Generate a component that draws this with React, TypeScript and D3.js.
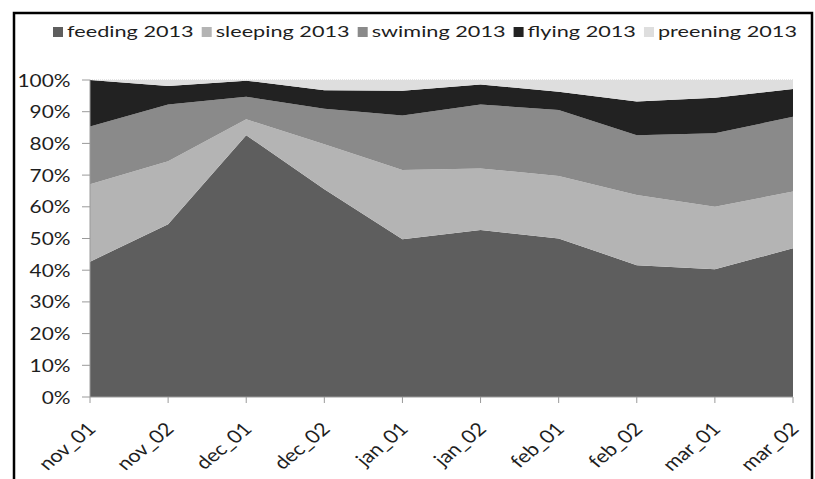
import React from "react";
import * as d3 from "d3";

const categories = ["nov_01", "nov_02", "dec_01", "dec_02", "jan_01", "jan_02", "feb_01", "feb_02", "mar_01", "mar_02"];
const seriesNames = ["feeding 2013", "sleeping 2013", "swiming 2013", "flying 2013", "preening 2013"];
const feeding = [42.7, 54.5, 82.6, 65.5, 49.8, 52.7, 50.0, 41.6, 40.3, 46.9];
const sleeping = [24.4, 19.9, 5.0, 14.2, 21.8, 19.4, 19.7, 22.1, 19.7, 17.9];
const swimming = [18.2, 17.9, 7.1, 11.2, 17.2, 20.2, 20.8, 18.9, 23.2, 23.6];
const flying = [14.7, 5.8, 5.1, 5.9, 7.8, 6.3, 5.8, 10.6, 11.2, 8.8];
const preening = [0, 1.9, 0.2, 3.2, 3.4, 1.4, 3.7, 6.8, 5.6, 2.8];
const yTicks = [0, 0.1, 0.2, 0.3, 0.4, 0.5, 0.6, 0.7, 0.8, 0.9, 1.0];

const colors = ["#5e5e5e", "#b4b4b4", "#8a8a8a", "#222222", "#dedede"];

const W = 815;
const H = 479;
const PLOT = { left: 90, right: 793, top: 80, bottom: 397 };
const FONT_NAME = "Lato";
const FONT = "Lato, 'Open Sans', sans-serif";
const TEXT = "#1e1e1e";

let _ctx: CanvasRenderingContext2D | null = null;
function measure(text: string, size: number): number {
  if (!_ctx) {
    const c = document.createElement("canvas");
    _ctx = c.getContext("2d");
  }
  if (!_ctx) return text.length * size * 0.52;
  _ctx.font = `${size}px ${FONT_NAME}`;
  return _ctx.measureText(text).width;
}

export default function App() {
  const seriesValues = [feeding, sleeping, swimming, flying, preening];
  const keys = seriesNames;
  const rows = categories.map((c, i) => {
    const r: any = { cat: c };
    keys.forEach((k, j) => (r[k] = seriesValues[j][i]));
    return r;
  });
  const stacked = d3.stack().keys(keys).offset(d3.stackOffsetExpand)(rows);

  const x = d3.scalePoint().domain(categories).range([PLOT.left, PLOT.right]);
  const y = d3.scaleLinear().domain([0, 1]).range([PLOT.bottom, PLOT.top]);
  const area = d3
    .area<any>()
    .x((d) => x(d.data.cat) as number)
    .y0((d) => y(d[0]))
    .y1((d) => y(d[1]));

  // legend layout
  const legendFont = 16;
  const sq = 10;
  const gapIn = 4;
  const gapOut = 8;
  const legendStart = 53;
  const legendEnd = 797;
  const rawW = keys.map((k) => measure(k, legendFont));
  const fixed = keys.length * (sq + gapIn) + (keys.length - 1) * gapOut;
  const legendSX = (legendEnd - legendStart - fixed) / rawW.reduce((a, b) => a + b, 0);
  let cursor = legendStart;
  const legendX = rawW.map((w) => {
    const s = cursor;
    cursor += sq + gapIn + w * legendSX + gapOut;
    return s;
  });
  const legendBase = 37;

  const yFont = 16.5;
  const ySX = 53 / measure("100%", yFont);

  const xFont = 18;
  const xSX = 1.2;

  return (
    <div style={{ position: "absolute", left: 0, top: 0 }}>
      <svg width={W} height={H} style={{ display: "block", background: "#fff" }}>
        <path d="M14,600 L14,13 L812,13 L812,600" fill="none" stroke="#000" strokeWidth={2.5} />

        {keys.map((k, i) => (
          <g key={k}>
            <rect x={legendX[i]} y={legendBase - 10} width={sq} height={sq} fill={colors[i]} />
            <text
              transform={`translate(${legendX[i] + sq + gapIn},${legendBase}) scale(${legendSX},1)`}
              fontFamily={FONT}
              fontSize={legendFont}
              fill={TEXT}
            >
              {k}
            </text>
          </g>
        ))}

        <line x1={PLOT.left} x2={PLOT.right} y1={y(1)} y2={y(1)} stroke="#c8c8c8" strokeDasharray="1,1" />

        {stacked.map((s, i) => (
          <path key={s.key} d={area(s as any) as string} fill={colors[i]} />
        ))}

        <line x1={PLOT.left} x2={PLOT.left} y1={PLOT.top} y2={PLOT.bottom} stroke="#9a9a9a" />
        {yTicks.map((t) => (
          <g key={t}>
            <line x1={PLOT.left - 8} x2={PLOT.left} y1={y(t)} y2={y(t)} stroke="#9a9a9a" />
            <text
              transform={`translate(70.5,${y(t)}) scale(${ySX},1)`}
              textAnchor="end"
              dominantBaseline="central"
              fontFamily={FONT}
              fontSize={yFont}
              fill={TEXT}
            >
              {Math.round(t * 100) + "%"}
            </text>
          </g>
        ))}

        <line x1={PLOT.left} x2={PLOT.right} y1={PLOT.bottom} y2={PLOT.bottom} stroke="#9a9a9a" />
        {categories.map((c) => (
          <g key={c}>
            <line x1={x(c)} x2={x(c)} y1={PLOT.bottom} y2={PLOT.bottom + 6} stroke="#9a9a9a" />
            <text
              transform={`translate(${(x(c) as number) + 7},430) scale(${xSX},1) rotate(-45)`}
              textAnchor="end"
              fontFamily={FONT}
              fontSize={xFont}
              fill={TEXT}
            >
              {c}
            </text>
          </g>
        ))}
      </svg>
    </div>
  );
}
